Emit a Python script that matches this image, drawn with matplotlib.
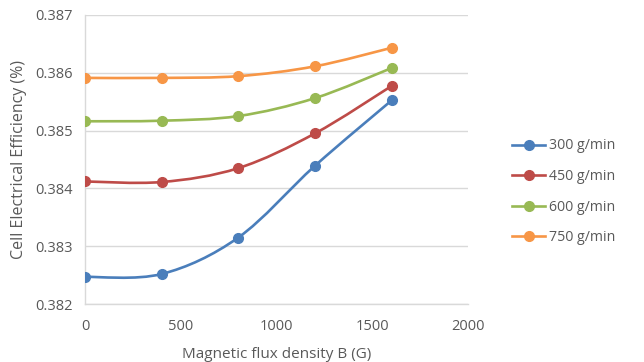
import numpy as np
import matplotlib.pyplot as plt
from matplotlib.path import Path
from matplotlib.patches import PathPatch
from matplotlib.lines import Line2D

plt.rcParams['font.family'] = ['Open Sans', 'DejaVu Sans']

# data
flux = [0, 400, 800, 1200, 1600]
eff_300 = [0.38247, 0.38252, 0.38315, 0.38439, 0.38552]
eff_450 = [0.38412, 0.38411, 0.38435, 0.38495, 0.38577]
eff_600 = [0.38516, 0.38517, 0.38525, 0.38556, 0.38608]
eff_750 = [0.38591, 0.38591, 0.38594, 0.38611, 0.38643]
labels = ['300 g/min', '450 g/min', '600 g/min', '750 g/min']
colors = ['#4A7EBB', '#BE4B48', '#98B954', '#F79646']
grey = '#595959'


def smooth_path(x, y):
    # Excel-style smoothed line as cubic bezier segments (Catmull-Rom control points)
    x = np.asarray(x, float)
    y = np.asarray(y, float)
    verts = [(x[0], y[0])]
    codes = [Path.MOVETO]
    n = len(x)
    for i in range(n - 1):
        p0 = i - 1 if i > 0 else i
        p3 = i + 2 if i + 2 < n else i + 1
        c1 = (x[i] + (x[i + 1] - x[p0]) / 6, y[i] + (y[i + 1] - y[p0]) / 6)
        c2 = (x[i + 1] - (x[p3] - x[i]) / 6, y[i + 1] - (y[p3] - y[i]) / 6)
        verts += [c1, c2, (x[i + 1], y[i + 1])]
        codes += [Path.CURVE4] * 3
    return Path(verts, codes)


fig = plt.figure(figsize=(6.44, 3.62), dpi=100)
ax = fig.add_axes([0.132, 0.160, 0.595, 0.799])

series = [eff_300, eff_450, eff_600, eff_750]
handles = []
for vals, col, lab in zip(series, colors, labels):
    ax.add_patch(PathPatch(smooth_path(flux, vals), facecolor='none',
                           edgecolor=col, lw=1.9, zorder=3))
    ax.plot(flux, vals, 'o', color=col, ms=7, zorder=4)
    handles.append(Line2D([], [], color=col, lw=1.9, marker='o', ms=7, label=lab))

ax.set_xlim(0, 2000)
ax.set_ylim(0.382, 0.387)
ax.set_xticks(np.arange(0, 2001, 500))
ax.set_yticks(np.arange(0.382, 0.38701, 0.001))
ax.set_yticklabels(['0.382', '0.383', '0.384', '0.385', '0.386', '0.387'])
ax.grid(axis='y', color='#D9D9D9', lw=1)
ax.set_axisbelow(True)
for s in ['top', 'right']:
    ax.spines[s].set_visible(False)
for s in ['left', 'bottom']:
    ax.spines[s].set_color('#D9D9D9')
    ax.spines[s].set_linewidth(1)
ax.tick_params(length=0, colors=grey, labelsize=10.5)
ax.tick_params(axis='x', pad=11)
ax.tick_params(axis='y', pad=9)
ax.set_xlabel('Magnetic flux density B (G)', color=grey, fontsize=11, labelpad=9)
ax.set_ylabel('Cell Electrical Efficiency (%)', color=grey, fontsize=11.5, labelpad=6)

fig.legend(handles=handles, loc='center left', bbox_to_anchor=(0.776, 0.47),
           frameon=False, fontsize=10.2, labelcolor=grey, handlelength=2.3,
           handletextpad=0.3, labelspacing=1.1)

fig.savefig('out.png', dpi=100)
